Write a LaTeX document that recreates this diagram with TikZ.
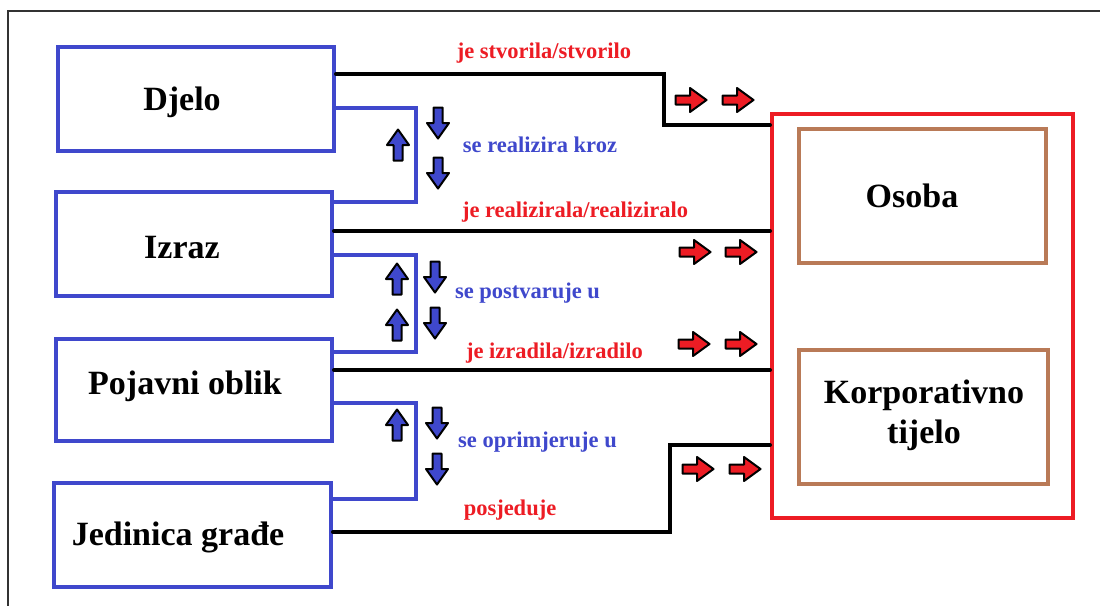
\documentclass[tikz,border=0pt]{standalone}
\usepackage{fontspec}
\setmainfont{Liberation Serif}
\definecolor{pblue}{HTML}{3F48CC}
\definecolor{pred}{HTML}{ED1C24}
\definecolor{pbrown}{HTML}{B97A57}
\definecolor{frame}{HTML}{333333}
\begin{document}
\begin{tikzpicture}[x=1pt,y=-1pt,
  ent/.style={draw=pblue,line width=4pt,minimum width=276pt,minimum height=104pt,inner sep=0pt},
  agent/.style={draw=pbrown,line width=4pt,minimum width=247pt,minimum height=134pt,inner sep=0pt},
  grp/.style={draw=pred,line width=4pt,minimum width=301pt,minimum height=404pt,inner sep=0pt},
  big/.style={font=\fontsize{34}{40}\selectfont\bfseries,inner sep=0pt,align=center},
  rlbl/.style={font=\fontsize{22.5}{26}\selectfont\bfseries,text=pred,inner sep=0pt},
  blbl/.style={font=\fontsize{22.5}{26}\selectfont\bfseries,text=pblue,inner sep=0pt},
  rel/.style={draw=black,line width=4pt,line cap=round},
  brk/.style={draw=pblue,line width=4pt},
  rarr/.pic={\draw[line width=2pt,fill=pred,line join=round] (-15.5,-4.5) -- (-1,-4.5) -- (-1,-12) -- (15.5,0) -- (-1,12) -- (-1,4.5) -- (-15.5,4.5) -- cycle;},
  uarr/.pic={\draw[line width=2pt,fill=pblue,line join=round] (-4.5,15.5) -- (-4.5,0) -- (-11,0) -- (0,-15.5) -- (11,0) -- (4.5,0) -- (4.5,15.5) -- cycle;},
  darr/.pic={\draw[line width=2pt,fill=pblue,line join=round] (-4.5,-15.5) -- (-4.5,0) -- (-11,0) -- (0,15.5) -- (11,0) -- (4.5,0) -- (4.5,-15.5) -- cycle;}
]
\useasboundingbox (0,0) rectangle (1100,606);
\fill[white] (0,0) rectangle (1100,606);
% outer frame
\draw[frame,line width=1.5pt] (1100,11) -- (8,11) -- (8,606);

% entity boxes
\node[ent] (dj) at (196,99) {};
\node[ent] (iz) at (194,243.5) {};
\node[ent,minimum height=102pt] (po) at (194,390) {};
\node[ent,minimum width=277pt] (je) at (192.5,535) {};

\node[big] (tdj) at (182,102) {Djelo};
\node[big] (tiz) at (182,248) {Izraz};
\node[big] (tpo) at (185,386) {Pojavni oblik};
\node[big] (tje) at (178,537) {Jedinica građe};

% agents
\node[grp] (rb) at (922.5,316) {};
\node[agent] (os) at (922.5,196) {};
\node[agent,minimum width=249pt] (kt) at (923.5,417) {};
\node[big] (tos) at (912,196) {Osoba};
\node[big] (tkt) at (924,415) {Korporativno\\tijelo};

% blue brackets
\draw[brk] (dj.east |- 0,108) -- (416,108) -- (416,202) -- (iz.east |- 0,202);
\draw[brk] (iz.east |- 0,255) -- (416,255) -- (416,352) -- (po.east |- 0,352);
\draw[brk] (po.east |- 0,403) -- (416,403) -- (416,499) -- (je.east |- 0,499);

% black relations
\draw[rel,line join=miter] (dj.east |- 0,74) -- (664,74) -- (664,125) -- (rb.west |- 0,125);
\draw[rel] (iz.east |- 0,231) -- (rb.west |- 0,231);
\draw[rel] (po.east |- 0,370) -- (rb.west |- 0,370);
\draw[rel,line join=miter] (je.east |- 0,532) -- (670,532) -- (670,445) -- (rb.west |- 0,445);

% labels
\node[rlbl] (l1) at (544,53) {je stvorila/stvorilo};
\node[blbl] (l2) at (540,145) {se realizira kroz};
\node[rlbl] (l3) at (575,212) {je realizirala/realiziralo};
\node[blbl] (l4) at (527.5,293) {se postvaruje u};
\node[rlbl] (l5) at (554.5,353) {je izradila/izradilo};
\node[blbl] (l6) at (537.5,442) {se oprimjeruje u};
\node[rlbl] (l7) at (510,510) {posjeduje};

% red block arrows
\pic at (691,100) {rarr};
\pic at (738,100) {rarr};
\pic at (695,252) {rarr};
\pic at (741,252) {rarr};
\pic at (694,344) {rarr};
\pic at (741,344) {rarr};
\pic at (698,469) {rarr};
\pic at (745,469) {rarr};

% blue block arrows
\pic at (398,145) {uarr};
\pic at (397,279) {uarr};
\pic at (397,325) {uarr};
\pic at (397,425) {uarr};
\pic at (438,123) {darr};
\pic at (438,173) {darr};
\pic at (435,277) {darr};
\pic at (435,323) {darr};
\pic at (437,423) {darr};
\pic at (437,469) {darr};
\end{tikzpicture}
\end{document}
